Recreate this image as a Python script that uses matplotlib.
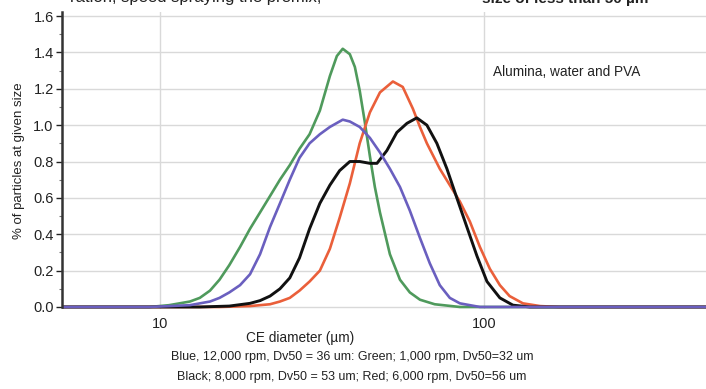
import matplotlib
matplotlib.use("Agg")
import matplotlib.pyplot as plt
from matplotlib.ticker import FixedLocator, MultipleLocator, NullLocator

plt.rcParams["font.family"] = ["Liberation Sans", "DejaVu Sans"]

# particle size distributions (diameter in um, % at size)
green_x = [5.0, 9.3, 10.7, 12.4, 13.3, 14.3, 15.3, 16.4, 17.7, 19.0, 20.4, 21.9, 23.5, 25.2, 27.0,
           29.0, 31.2, 33.5, 35.2, 36.7, 38.6, 40.0, 41.4, 42.9, 44.5, 46.1, 47.8, 51.3, 55.1,
           59.1, 63.5, 70.5, 84.3, 484]
green_y = [0.0, 0.0, 0.01, 0.03, 0.05, 0.09, 0.15, 0.23, 0.33, 0.43, 0.52, 0.61, 0.70, 0.78, 0.87,
           0.95, 1.08, 1.27, 1.38, 1.42, 1.39, 1.32, 1.19, 1.02, 0.83, 0.66, 0.52, 0.29, 0.15,
           0.08, 0.04, 0.015, 0.0, 0.0]

blue_x = [5.0, 9.3, 12.4, 14.3, 15.3, 16.4, 17.7, 19.0, 20.4, 21.9, 23.5, 25.2, 27.0, 29.0, 31.2,
          33.5, 36.7, 38.6, 41.4, 44.5, 47.8, 51.3, 55.1, 59.1, 63.5, 68.1, 73.1, 78.5, 84.3,
          97.2, 484]
blue_y = [0.0, 0.0, 0.01, 0.03, 0.05, 0.08, 0.12, 0.18, 0.29, 0.44, 0.57, 0.70, 0.82, 0.90, 0.95,
          0.99, 1.03, 1.02, 0.99, 0.93, 0.85, 0.76, 0.66, 0.53, 0.38, 0.24, 0.12, 0.05, 0.02,
          0.0, 0.0]

black_x = [5.0, 13.3, 16.4, 19.0, 20.4, 21.9, 23.5, 25.2, 27.0, 29.0, 31.2, 33.5, 35.9, 38.6, 41.4,
           44.5, 46.8, 50.2, 53.9, 57.9, 62.1, 66.7, 71.6, 76.9, 82.5, 88.6, 95.2, 102.2, 112,
           122.9, 138.7, 484]
black_y = [0.0, 0.0, 0.005, 0.02, 0.035, 0.06, 0.10, 0.16, 0.27, 0.43, 0.57, 0.67, 0.75, 0.80, 0.80,
           0.79, 0.79, 0.86, 0.96, 1.01, 1.04, 1.00, 0.90, 0.76, 0.60, 0.44, 0.28, 0.14, 0.05,
           0.01, 0.0, 0.0]

red_x = [5.0, 15.3, 19.0, 21.9, 23.5, 25.2, 27.0, 29.0, 31.2, 33.5, 35.9, 38.6, 41.4, 44.5, 47.8,
         52.4, 56.2, 60.4, 63.5, 66.7, 73.1, 78.5, 84.3, 90.5, 97.2, 104.3, 112, 120, 131.9,
         149, 171.6, 484]
red_y = [0.0, 0.0, 0.005, 0.015, 0.03, 0.05, 0.09, 0.14, 0.20, 0.32, 0.49, 0.68, 0.90, 1.07, 1.18,
         1.24, 1.21, 1.09, 0.99, 0.90, 0.76, 0.67, 0.58, 0.47, 0.33, 0.21, 0.12, 0.06, 0.02,
         0.005, 0.0, 0.0]

y_ticks = [0.0, 0.2, 0.4, 0.6, 0.8, 1.0, 1.2, 1.4, 1.6]
x_ticks = [10, 100]

fig = plt.figure(figsize=(7.06, 3.89), dpi=100)
ax = fig.add_axes([62 / 706, 1 - 308.8 / 389, 1 - 62 / 706, (308.8 - 12.4) / 389])

line_kw = dict(solid_joinstyle="round", solid_capstyle="round")
ax.plot(green_x, green_y, color="#4f9a5c", lw=1.9, **line_kw)
ax.plot(red_x, red_y, color="#ea5f3a", lw=1.9, **line_kw)
ax.plot(black_x, black_y, color="#111111", lw=2.1, **line_kw)
ax.plot(blue_x, blue_y, color="#6a5fbf", lw=1.9, **line_kw)

ax.set_xscale("log")
ax.set_xlim(5.0, 484)
ax.set_ylim(-0.01, 1.62)

ax.xaxis.set_major_locator(FixedLocator(x_ticks))
ax.xaxis.set_minor_locator(NullLocator())
ax.set_xticklabels([str(t) for t in x_ticks])
ax.set_yticks(y_ticks)
ax.set_yticklabels([f"{t:.1f}" for t in y_ticks])
ax.yaxis.set_minor_locator(MultipleLocator(0.1))

ax.tick_params(axis="x", length=0, pad=6, labelsize=10.5, colors="#222222")
ax.tick_params(axis="y", which="major", length=4, width=1, pad=2, labelsize=10.5, colors="#222222")
ax.tick_params(axis="y", which="minor", length=2, width=0.8, color="#777777")

ax.grid(True, which="major", color="#d9d9d9", lw=1.0)
ax.set_axisbelow(True)

for s in ["top", "right", "bottom"]:
    ax.spines[s].set_visible(False)
ax.spines["left"].set_linewidth(1.8)
ax.spines["left"].set_color("#333333")
ax.spines["left"].set_bounds(0, 1.62)

ax.set_ylabel("% of particles at given size", fontsize=9.5, color="#222222")
ax.yaxis.set_label_coords((25 - 62) / 644, 0.5)

ax.text(0.67, 0.80, "Alumina, water and PVA", transform=ax.transAxes, fontsize=9.8,
        color="#222222", ha="left", va="center")

fig.text(300 / 706, 1 - 338 / 389, "CE diameter (\u00b5m)", ha="center", va="center",
         fontsize=9.8, color="#222222")
fig.text(352 / 706, 1 - 357 / 389, "Blue, 12,000 rpm, Dv50 = 36 um: Green; 1,000 rpm, Dv50=32 um",
         ha="center", va="center", fontsize=9, color="#222222")
fig.text(352 / 706, 1 - 377 / 389, "Black; 8,000 rpm, Dv50 = 53 um; Red; 6,000 rpm, Dv50=56 um",
         ha="center", va="center", fontsize=9, color="#222222")

# header text clipped by the top edge of the original crop
fig.text(70 / 706, 1 - 2 / 389, "ration, speed spraying the premix,", ha="left", va="baseline",
         fontsize=12, color="#222222")
fig.text(482 / 706, 1 - 3 / 389, "size of less than 50 \u00b5m", ha="left", va="baseline",
         fontsize=11, fontweight="bold", color="#222222")

fig.savefig("out.png", dpi=100)
